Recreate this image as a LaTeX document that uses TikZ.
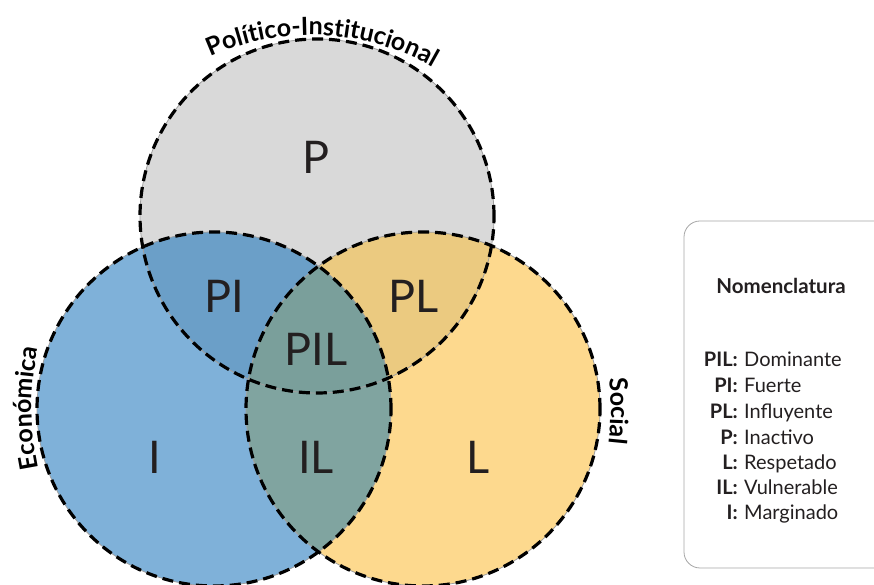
\documentclass[tikz,border=0pt]{standalone}
\usepackage{fontspec}
\setmainfont{Lato}
\usetikzlibrary{decorations.text}
\definecolor{colP}{HTML}{D9D9D9}
\definecolor{colI}{HTML}{7FB1D9}
\definecolor{colL}{HTML}{FDD98E}
\definecolor{colPI}{HTML}{6B9FC8}
\definecolor{colPL}{HTML}{EBCA80}
\definecolor{colIL}{HTML}{80A4A0}
\definecolor{colPIL}{HTML}{7A9F9B}
\definecolor{txt}{HTML}{231F20}
\tikzset{
  outlinethin/.style={draw=gray!75, line width=0.8pt},
  outlinedash/.style={draw=black, line width=3.2pt, dash pattern=on 11pt off 6pt},
  biglabel/.style={font=\fontsize{45}{45}\selectfont, text=txt, inner sep=0pt, anchor=center},
  keylabel/.style={font=\fontsize{20}{22}\selectfont\bfseries, text=txt, inner sep=0pt, anchor=base east},
  vallabel/.style={font=\fontsize{20}{22}\selectfont, text=txt, inner sep=0pt, anchor=base west},
  legendbox/.style={draw=gray!70, line width=0.8pt, rounded corners=16pt, fill=white}
}
\begin{document}
\begin{tikzpicture}[x=1pt,y=1pt]
\useasboundingbox (0,0) rectangle (874,585);
\def\R{177}
\coordinate (T) at (317,369);
\coordinate (Lc) at (214,176);
\coordinate (Rc) at (423,176);
% fills
\fill[colP] (T) circle (\R);
\fill[colI] (Lc) circle (\R);
\fill[colL] (Rc) circle (\R);
\begin{scope}\clip (T) circle (\R); \fill[colPI] (Lc) circle (\R);\end{scope}
\begin{scope}\clip (T) circle (\R); \fill[colPL] (Rc) circle (\R);\end{scope}
\begin{scope}\clip (Lc) circle (\R); \fill[colIL] (Rc) circle (\R);\end{scope}
\begin{scope}\clip (T) circle (\R); \clip (Lc) circle (\R); \fill[colPIL] (Rc) circle (\R);\end{scope}
% outlines
\foreach \c in {T,Lc,Rc} {\draw[outlinethin] (\c) circle (\R);}
\foreach \c in {T,Lc,Rc} {\draw[outlinedash] (\c) circle (\R);}
% region labels
\node[biglabel] (p) at (316,428) {P};
\node[biglabel] (pi) at (224,289) {PI};
\node[biglabel] (pl) at (414,289) {PL};
\node[biglabel] (pil) at (316,236) {PIL};
\node[biglabel] (i) at (155,128) {I};
\node[biglabel] (il) at (316,128) {IL};
\node[biglabel] (l) at (478,128) {L};
% curved labels
\coordinate (tc) at (311,306);
\coordinate (ec) at (332,177);
\coordinate (sc) at (311,174);
{\fontsize{25}{27}\selectfont\bfseries\color{txt}
\path[decorate, decoration={text along path, text align=center,
  text={Político-Institucional}}]
  (tc) ++(117.2:244) arc (117.2:57.2:244);
\path[decorate, decoration={text along path, text align=center,
  text={Económica}}]
  (ec) ++(194:300) arc (194:166:300);
\path[decorate, decoration={text along path, text align=center,
  text={Social}}]
  (sc) ++(12:300) arc (12:-12:300);
}
% legend
\draw[legendbox] (684,17) rectangle (895,364);
\node[font=\fontsize{20.5}{22}\selectfont\bfseries, text=txt, inner sep=0pt] (nom) at (781,299) {Nomenclatura};
\node[keylabel] (k1) at (738,218) {PIL:};
\node[vallabel] (v1) at (744,218) {Dominante};
\node[keylabel] (k2) at (738,192) {PI:};
\node[vallabel] (v2) at (744,192) {Fuerte};
\node[keylabel] (k3) at (738,166) {PL:};
\node[vallabel] (v3) at (744,166) {Influyente};
\node[keylabel] (k4) at (738,140) {P:};
\node[vallabel] (v4) at (744,140) {Inactivo};
\node[keylabel] (k5) at (738,115) {L:};
\node[vallabel] (v5) at (744,115) {Respetado};
\node[keylabel] (k6) at (738,90) {IL:};
\node[vallabel] (v6) at (744,90) {Vulnerable};
\node[keylabel] (k7) at (738,65) {I:};
\node[vallabel] (v7) at (744,65) {Marginado};
\end{tikzpicture}
\end{document}
